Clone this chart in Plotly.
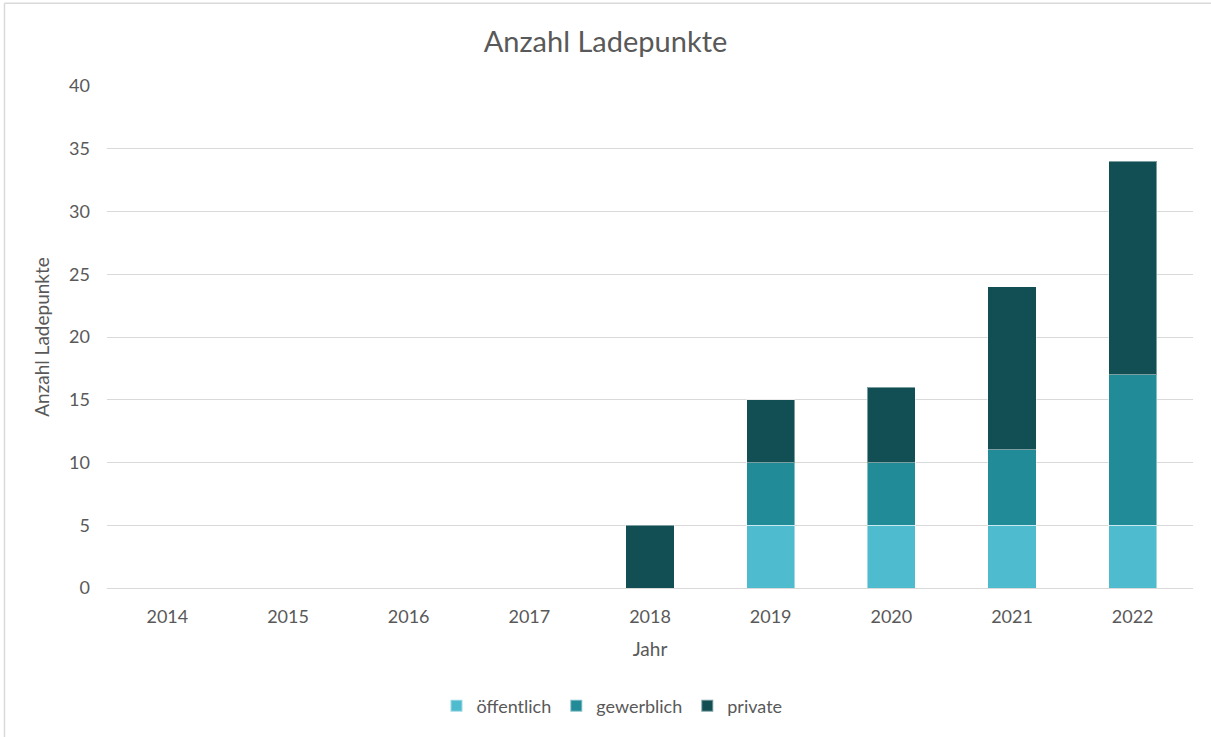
import plotly.graph_objects as go

years = ["2014", "2015", "2016", "2017", "2018", "2019", "2020", "2021", "2022"]
oeffentlich = [0, 0, 0, 0, 0, 5, 5, 5, 5]
gewerblich = [0, 0, 0, 0, 0, 5, 5, 6, 12]
private = [0, 0, 0, 0, 5, 5, 6, 13, 17]

series = [
    ("öffentlich", oeffentlich, "#4FBBCE"),
    ("gewerblich", gewerblich, "#218B97"),
    ("private", private, "#114F55"),
]

FONT = "Lato, 'Open Sans', sans-serif"
TXT = "#595959"

fig = go.Figure()
for name, vals, col in series:
    fig.add_trace(go.Bar(
        x=years, y=vals, name=name,
        marker=dict(color=col, line=dict(color="rgba(255,255,255,0.45)", width=1)),
    ))

W, H = 1211, 737
L, R, T, B = 107, 18, 86, 145
pw, ph = W - L - R, H - T - B

def px(xp):
    return (xp - L) / pw

def py(yp):
    return (H - B - yp) / ph

fig.update_layout(
    width=W, height=H,
    barmode="stack", bargap=0.6,
    paper_bgcolor="white", plot_bgcolor="white",
    margin=dict(l=L, r=R, t=T, b=B),
    font=dict(family=FONT, color=TXT, size=18),
    title=dict(text="Anzahl Ladepunkte", x=0.5, xanchor="center",
               y=1 - 42 / H, yanchor="middle",
               font=dict(size=29, color=TXT, family=FONT)),
    xaxis=dict(
        title=dict(text="Jahr", font=dict(size=19, color=TXT), standoff=17),
        showgrid=False, showline=True, linecolor="#D9D9D9", linewidth=1,
        ticks="", tickfont=dict(size=18, color=TXT), ticklabelstandoff=12,
    ),
    yaxis=dict(
        title=dict(text="Anzahl Ladepunkte", font=dict(size=19, color=TXT), standoff=14),
        range=[0, 40], dtick=5, showgrid=True, gridcolor="#D9D9D9", gridwidth=1,
        zeroline=False, showline=False, ticks="", tickfont=dict(size=18, color=TXT),
        ticklabelstandoff=16,
    ),
    legend=dict(orientation="h", x=0.465, xanchor="center", y=py(711), yanchor="middle",
                font=dict(size=18, color=TXT), traceorder="normal",
                itemwidth=30, itemsizing="constant"),
    shapes=[
        dict(type="line", xref="paper", yref="paper", x0=px(4.5), x1=px(4.5),
             y0=py(2.5), y1=py(745), line=dict(color="#D9D9D9", width=1.5)),
        dict(type="line", xref="paper", yref="paper", x0=px(4.5), x1=px(1220),
             y0=py(2.5), y1=py(2.5), line=dict(color="#D9D9D9", width=1.5)),
    ],
)

fig.write_html("out.html", config={"displayModeBar": False},
               post_script="document.body.style.margin='0';")
